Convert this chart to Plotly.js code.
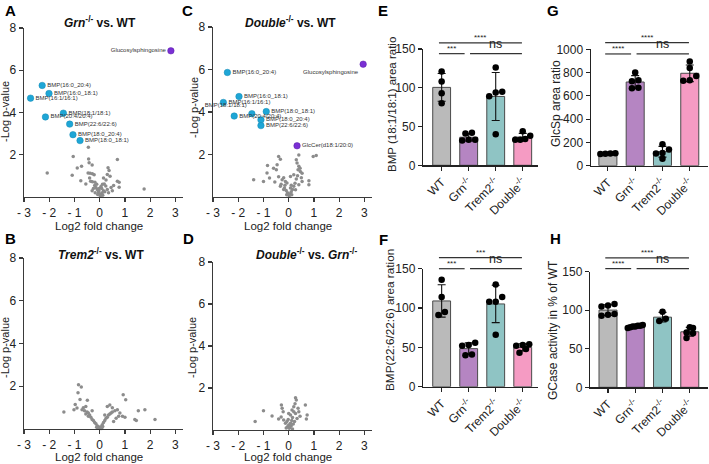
<!DOCTYPE html>
<html><head><meta charset="utf-8">
<script src="https://cdn.plot.ly/plotly-3.0.1.min.js"></script>
<style>body{margin:0;padding:0;background:#fff}#chart{width:709px;height:464px}</style>
</head><body><div id="chart"></div>
<script>
const W = 709, H = 464;
const FONT = 'Liberation Sans, Arial, Helvetica, sans-serif';

// ---------- Volcano data ----------
const volXTicks = [-3, -2, -1, 0, 1, 2, 3];
const volXTickText = ['- 3', '- 2', '- 1', '0', '1', '2', '3'];
const volYTicks = [2, 4, 6, 8];

// A: Grn-/- vs WT
const A_grayX = [-0.45,-1.05,-0.44,0.70,-0.42,-0.30,-0.89,-0.72,0.33,0.37,-2.08,-0.46,-0.38,-0.29,-0.22,-1.09,0.30,0.41,-0.75,-0.36,-0.29,-0.19,0.70,0.77,0.11,0.24,0.77,1.76,-0.15,-0.10,-0.05,0.00,0.05,0.10,0.15,-0.20,0.02,-0.08,0.08,0.20,-0.25,0.30,-0.12,0.05,0.18,-0.30,0.12,-0.03,0.45,-0.55,0.55,-0.02,0.25,-0.40,0.15,0.35,-0.18,0.50];
const A_grayY = [2.35,1.92,1.80,1.77,1.62,1.52,1.37,1.45,1.38,1.25,1.14,1.14,1.12,1.10,1.05,1.03,1.06,0.98,0.77,0.75,0.72,0.70,0.74,0.70,0.60,0.52,0.46,0.38,0.45,0.35,0.25,0.15,0.10,0.20,0.30,0.55,0.05,0.12,0.40,0.25,0.40,0.35,0.60,0.50,0.62,0.30,0.08,0.30,0.45,0.62,0.55,0.40,0.80,0.90,0.90,0.20,0.20,0.30];
const A_bmpNames = ['BMP(16:0_20:4)','BMP(16:0_18:1)','BMP(16:1/16:1)','BMP(18:1/18:1)','BMP(20:4/20:4)','BMP(22:6/22:6)','BMP(18:0_20:4)','BMP(18:0_18:1)'];
const A_bmpX = [-2.28,-2.01,-2.74,-1.44,-2.15,-1.19,-1.06,-0.78];
const A_bmpY = [5.28,4.90,4.68,3.97,3.79,3.45,2.95,2.67];
const A_glcNames = ['Glucosylsphingosine'];
const A_glcX = [2.82];
const A_glcY = [6.92];

// B: Trem2-/- vs WT
const B_grayX = [-0.84,-0.73,-0.86,-0.49,-0.78,-0.97,-1.42,-1.02,-0.90,-0.65,-0.55,-0.60,-0.50,-0.45,-0.55,-0.40,-0.45,-0.35,-0.30,-0.25,-0.20,-0.15,-0.10,-0.05,0.00,0.05,0.10,0.15,0.20,0.25,0.30,0.35,0.40,0.45,0.50,0.60,0.70,0.80,0.90,1.00,0.40,0.30,0.50,0.93,1.03,1.53,1.79,2.19,1.39,1.45,0.65,0.55,0.75,-0.70,-0.30,0.20,0.02,-0.08,0.08,0.12,-0.12];
const B_grayY = [2.07,1.97,1.70,1.35,1.38,1.15,0.80,0.90,0.98,1.00,1.05,0.85,0.80,0.75,0.70,0.65,0.60,0.55,0.45,0.40,0.30,0.25,0.15,0.10,0.05,0.10,0.20,0.30,0.40,0.50,0.55,0.65,0.70,0.75,0.80,0.85,0.90,0.75,0.60,0.55,1.12,1.05,1.00,1.60,1.37,0.85,0.90,0.45,0.45,0.40,0.50,0.35,0.60,0.90,0.85,0.65,0.02,0.05,0.02,0.12,0.08];

// C: Double-/- vs WT
const C_grayX = [-0.40,-0.33,0.40,0.97,1.09,0.30,0.33,0.40,-0.46,-0.84,-0.60,-0.49,0.37,0.46,0.53,0.20,-0.86,0.07,-0.20,-0.26,-0.13,-0.07,-1.39,-1.00,-0.76,0.80,0.80,-0.33,-0.17,0.07,0.27,0.40,0.53,-0.10,-0.05,0.00,0.05,0.10,0.15,0.20,-0.20,-0.30,0.25,0.30,-0.15,0.10,0.02,-0.08,0.12,0.35,-0.40,0.45,0.50,-0.55];
const C_grayY = [1.90,1.78,1.98,1.90,1.95,1.75,1.60,1.45,1.52,1.48,1.35,1.28,1.28,1.20,1.12,1.05,1.13,0.97,0.90,0.81,0.73,0.66,0.81,0.73,0.89,0.77,0.58,0.50,0.42,0.42,0.34,0.58,0.73,0.30,0.20,0.10,0.15,0.25,0.35,0.50,0.35,0.60,0.65,0.85,0.55,0.55,0.05,0.10,0.10,1.00,0.95,1.35,0.90,0.70];
const C_bmpNames = ['BMP(16:0_20:4)','BMP(16:0_18:1)','BMP(16:1/16:1)','BMP(18:1/18:1)','BMP(18:0_18:1)','BMP(20:4/20:4)','BMP(18:0_20:4)','BMP(22:6/22:6)'];
const C_bmpX = [-2.43,-1.97,-2.59,-1.46,-0.89,-2.16,-1.10,-1.10];
const C_bmpY = [5.86,4.73,4.45,3.92,4.02,3.81,3.63,3.36];
const C_glcNames = ['Glucosylsphingosine','GlcCer(d18:1/20:0)'];
const C_glcX = [2.95,0.33];
const C_glcY = [6.25,2.41];

// D: Double-/- vs Grn-/-
const D_grayX = [0.27,0.30,0.66,-0.29,-0.26,0.20,0.37,-1.00,-0.22,0.00,0.07,0.13,0.20,0.27,0.40,-0.66,0.73,0.70,-1.33,-0.40,-0.20,-0.07,-0.13,0.00,0.07,0.23,0.33,0.15,-0.05,0.02,0.05,0.10,0.18,-0.10,0.12,-0.30,0.45,0.25,0.15,-0.02];
const D_grayY = [1.54,1.43,1.19,1.19,1.03,1.11,1.03,0.92,0.87,0.79,0.71,0.95,0.87,0.79,0.87,0.67,0.71,0.52,0.40,0.52,0.48,0.40,0.32,0.24,0.32,0.40,0.55,0.60,0.15,0.08,0.12,0.20,0.28,0.10,0.45,0.62,0.65,1.25,0.05,0.50];

// ---------- Bar panel data ----------
const groupLabels = ['WT','Grn<sup>-/-</sup>','Trem2<sup>-/-</sup>','Double<sup>-/-</sup>'];
const E_WT = [121,108,93,80];
const E_Grn = [42,41,33,32,33];
const E_Trem2 = [126,95,94,89,40];
const E_Double = [44,38,34,33,33];
const F_WT = [136,114,95,91];
const F_Grn = [56,53,52,41,40];
const F_Trem2 = [130,114,108,108,66];
const F_Double = [54,53,52,48,43];
const G_WT = [100,104,102,106];
const G_Grn = [800,735,725,670,665];
const G_Trem2 = [185,140,110,105,60];
const G_Double = [895,840,770,735,730];
const H_WT = [108,105,106,95,94,93];
const H_Grn = [81,80,79,79,78,77,80];
const H_Trem2 = [98,86,89];
const H_Double = [78,77,71,70,64];
const E_sig = ['****','***','ns'];
const F_sig = ['***','***','ns'];
const G_sig = ['****','****','ns'];
const H_sig = ['****','****','ns'];

// ---------- Styles ----------
const barColors = ['#bababa','#b585c2','#8fc4c4','#f59bc3'];
const bmpColor = '#1ea6d6';
const glcColor = '#7a2fd4';
const grayColor = '#8c8c8c';

const layout = {
  width: W, height: H, margin: {l:0,r:0,t:0,b:0},
  paper_bgcolor: '#fff', plot_bgcolor: 'rgba(0,0,0,0)',
  showlegend: false, font: {family: FONT, color: '#222'},
  annotations: [], shapes: []
};
const traces = [];
const px = (x) => x / W;
const py = (y) => 1 - y / H;
function axName(n, l) { return l + 'axis' + (n === 1 ? '' : n); }
function ref(n, l) { return l + (n === 1 ? '' : n); }
function ann(text, x, y, o) {
  layout.annotations.push(Object.assign({text, x: px(x), y: py(y), xref:'paper', yref:'paper', showarrow:false,
    xanchor:'center', yanchor:'middle', font:{family:FONT, size:11, color:'#222'}}, o || {}));
}

// ---------- Volcano panels ----------
function volcano(n, geo, grayX, grayY, bmp, glc, title, bmpPos, glcPos) {
  layout[axName(n,'x')] = {domain:[px(geo.x0), px(geo.x1)], range:[-3, 3.3], anchor: ref(n,'y'),
    tickmode:'array', tickvals: volXTicks, ticktext: volXTickText, showline:true, linecolor:'#3a3a3a', linewidth:1.3,
    ticks:'outside', ticklen:4, tickcolor:'#3a3a3a', tickwidth:1.2, showgrid:false, zeroline:false,
    tickfont:{family:FONT, size:12, color:'#222'}, fixedrange:true};
  layout[axName(n,'y')] = {domain:[py(geo.y1), py(geo.y0)], range:[0, 8], anchor: ref(n,'x'),
    tickmode:'array', tickvals: volYTicks, showline:true, linecolor:'#3a3a3a', linewidth:1.3,
    ticks:'outside', ticklen:4, tickcolor:'#3a3a3a', tickwidth:1.2, showgrid:false, zeroline:false,
    tickfont:{family:FONT, size:12, color:'#222'}, fixedrange:true};
  const xa = ref(n,'x'), ya = ref(n,'y');
  traces.push({type:'scatter', mode:'markers', x: grayX, y: grayY, xaxis: xa, yaxis: ya,
    marker:{size:3.5, color: grayColor}, cliponaxis:false, hoverinfo:'skip'});
  if (bmp) traces.push({type:'scatter', mode:'markers+text', x: bmp.x, y: bmp.y, text: bmp.names, xaxis: xa, yaxis: ya,
    textposition: bmpPos, textfont:{family:FONT, size:6, color:'#333'},
    marker:{size:6.5, color: bmpColor, line:{width:0.5, color:'#168ab5'}}, cliponaxis:false, hoverinfo:'skip'});
  if (glc) traces.push({type:'scatter', mode:'markers+text', x: glc.x, y: glc.y, text: glc.names, xaxis: xa, yaxis: ya,
    textposition: glcPos, textfont:{family:FONT, size:6, color:'#333'},
    marker:{size:6.5, color: glcColor, line:{width:0.5, color:'#5a1fa8'}}, cliponaxis:false, hoverinfo:'skip'});
  ann(title, geo.tx, geo.ty, {font:{family:FONT, size:12, color:'#111'}});
  ann('-Log p-value', geo.ylx, geo.yly, {textangle:-90, font:{family:FONT, size:11, color:'#222'}});
  ann('Log2 fold change', geo.x0 + 75, geo.xly, {font:{family:FONT, size:11.5, color:'#222'}});
}

volcano(1, {x0:24, x1:183, y0:28, y1:197, tx:100, ty:22, ylx:5, yly:112, xly:226},
  A_grayX, A_grayY, {x:A_bmpX, y:A_bmpY, names:A_bmpNames}, {x:A_glcX, y:A_glcY, names:A_glcNames},
  '<b><i>Grn</i><sup>-/-</sup> vs. WT</b>', 'middle right', ['middle left']);
volcano(2, {x0:24, x1:183, y0:258, y1:429, tx:101, ty:254, ylx:5, yly:348, xly:457},
  B_grayX, B_grayY, null, null, '<b><i>Trem2</i><sup>-/-</sup> vs. WT</b>');
volcano(3, {x0:213, x1:372, y0:27, y1:197, tx:290, ty:22, ylx:194, yly:108, xly:226},
  C_grayX, C_grayY, {x:C_bmpX, y:C_bmpY, names:C_bmpNames}, {x:C_glcX, y:C_glcY, names:C_glcNames},
  '<b><i>Double</i><sup>-/-</sup> vs. WT</b>',
  ['middle right','middle right','middle right','top left','middle right','middle right','middle right','middle right'],
  ['bottom left','middle right']);
volcano(4, {x0:213, x1:372, y0:262, y1:430, tx:306, ty:254, ylx:192, yly:348, xly:457},
  D_grayX, D_grayY, null, null, '<b><i>Double</i><sup>-/-</sup> vs. <i>Grn</i><sup>-/-</sup></b>');

// ---------- Bar panels ----------
function mean(a) { return a.reduce((s,v)=>s+v,0)/a.length; }
function sd(a) { const m = mean(a); return Math.sqrt(a.reduce((s,v)=>s+(v-m)*(v-m),0)/(a.length-1)); }
function swarm(vals, center, pxPerY, pxPerX, diam, maxSpan) {
  const idx = vals.map((v,i)=>i).sort((a,b)=>vals[a]-vals[b]);
  const rows = [];
  idx.forEach(i => {
    const r = rows[rows.length-1];
    if (r && (vals[i]-vals[r[0]])*pxPerY < diam*0.8) r.push(i); else rows.push([i]);
  });
  const xs = new Array(vals.length);
  rows.forEach(r => {
    const n = r.length;
    const step = n > 1 ? Math.min(diam, maxSpan/(n-1)) : 0;
    r.forEach((i,j) => { xs[i] = center + ((j-(n-1)/2)*step)/pxPerX; });
  });
  return xs;
}
function barPanel(n, geo, groups, sig, ytitle) {
  const xa = ref(n,'x'), ya = ref(n,'y');
  layout[axName(n,'x')] = {domain:[px(geo.x0), px(geo.x1)], range:geo.xr, anchor: ya,
    tickmode:'array', tickvals:[0,1,2,3], ticktext: groupLabels, tickangle:-45,
    showline:true, linecolor:'#222', linewidth:1.2, ticks:'outside', ticklen:4, tickcolor:'#222', tickwidth:1.2,
    showgrid:false, zeroline:false, tickfont:{family:FONT, size:12, color:'#222'}, fixedrange:true};
  layout[axName(n,'y')] = {domain:[py(geo.y1), py(geo.y0)], range:[0, geo.ymax], anchor: xa,
    tickmode:'array', tickvals: geo.yticks, showline:true, linecolor:'#222', linewidth:1.2,
    ticks:'outside', ticklen:4, tickcolor:'#222', tickwidth:1.2, showgrid:false, zeroline:false,
    tickfont:{family:FONT, size:12, color:'#222'}, fixedrange:true};
  const means = groups.map(mean), sds = groups.map(sd);
  traces.push({type:'bar', x:[0,1,2,3], y: means, xaxis: xa, yaxis: ya, width:0.66,
    marker:{color: barColors, line:{color:'#4a4a4a', width:1}},
    error_y:{type:'data', array: sds, visible:true, color:'#111', thickness:1.1, width:4}, hoverinfo:'skip'});
  const pxPerX = (geo.x1-geo.x0)/(geo.xr[1]-geo.xr[0]);
  const pxPerY = (geo.y1-geo.y0)/geo.ymax;
  const dx = [], dy = [];
  groups.forEach((g,gi) => {
    const xs = swarm(g, gi, pxPerY, pxPerX, 6.5, 15);
    g.forEach((v,k) => { dx.push(xs[k]); dy.push(v); });
  });
  traces.push({type:'scatter', mode:'markers', x: dx, y: dy, xaxis: xa, yaxis: ya,
    marker:{size:6.5, color:'#000'}, cliponaxis:false, hoverinfo:'skip'});
  const cx = c => geo.x0 + (c-geo.xr[0])*pxPerX;
  const cy = v => geo.y1 - v*pxPerY;
  const lines = [[-0.1, 2.97, geo.sigTop], [-0.1, 0.85, geo.sigLow], [1.05, 2.97, geo.sigLow]];
  lines.forEach((l,i) => {
    const x0 = cx(l[0]), x1 = cx(l[1]), y = cy(l[2]);
    layout.shapes.push({type:'line', xref:'paper', yref:'paper', x0:px(x0), x1:px(x1), y0:py(y), y1:py(y),
      line:{color:'#333', width:1.2}});
    const isNs = sig[i] === 'ns';
    ann(sig[i], (x0+x1)/2, y - (isNs ? 1 : -1), {yanchor:'bottom',
      font:{family:FONT, size: isNs ? 12.5 : 8, color:'#222'}});
  });
  ann(ytitle, geo.ylx, geo.yly, {textangle:-90, font:{family:FONT, size:geo.yts, color:'#222'}});
}

barPanel(5, {x0:423, x1:537.6, y0:49, y1:165.3, xr:[-0.69,3.55], ymax:150, yticks:[0,50,100,150],
  sigTop:158, sigLow:144, ylx:392, yly:105, yts:11.5}, [E_WT,E_Grn,E_Trem2,E_Double], E_sig, 'BMP (18:1/18:1) area ratio');
barPanel(6, {x0:423, x1:537.6, y0:268.7, y1:386.7, xr:[-0.69,3.55], ymax:150, yticks:[0,50,100,150],
  sigTop:164, sigLow:150, ylx:390, yly:320, yts:11.8}, [F_WT,F_Grn,F_Trem2,F_Double], F_sig, 'BMP(22:6/22:6) area ration');
barPanel(7, {x0:590.7, x1:707.5, y0:49.3, y1:165.7, xr:[-0.63,3.65], ymax:1000, yticks:[0,200,400,600,800,1000],
  sigTop:1057, sigLow:960, ylx:556, yly:104, yts:12}, [G_WT,G_Grn,G_Trem2,G_Double], G_sig, 'GlcSp area ratio');
barPanel(8, {x0:590, x1:707.5, y0:271.7, y1:387.3, xr:[-0.66,3.65], ymax:150, yticks:[0,50,100,150],
  sigTop:168, sigLow:154, ylx:553, yly:330, yts:12}, [H_WT,H_Grn,H_Trem2,H_Double], H_sig, 'GCase activity in % of WT');

// ---------- Panel letters ----------
const letters = [['A',10,11],['C',188,11],['B',10,238],['D',189,238],['E',383,11],['G',553,11],['F',383,239],['H',555,238]];
letters.forEach(l => ann('<b>' + l[0] + '</b>', l[1], l[2], {font:{family:FONT, size:15, color:'#000'}}));

Plotly.newPlot('chart', traces, layout, {staticPlot:true, displayModeBar:false});
</script>
</body></html>
